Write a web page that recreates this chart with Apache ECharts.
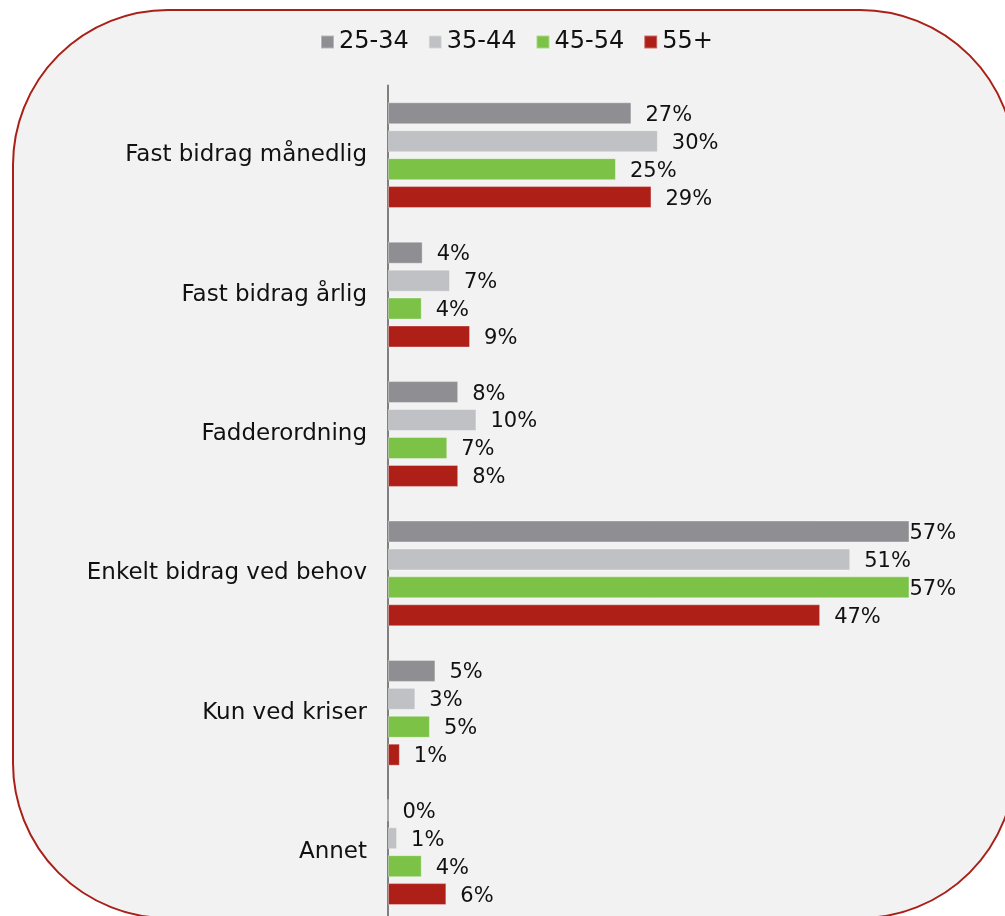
<!DOCTYPE html>
<html>
<head>
<meta charset="utf-8">
<script src="https://cdn.jsdelivr.net/npm/echarts@6/dist/echarts.min.js"></script>
<style>
html,body{margin:0;padding:0;background:#ffffff;}
#chart{width:1005px;height:916px;}
</style>
</head>
<body>
<div id="chart"></div>
<script>
var categories = ['Fast bidrag månedlig', 'Fast bidrag årlig', 'Fadderordning', 'Enkelt bidrag ved behov', 'Kun ved kriser', 'Annet'];
var seriesNames = ['25-34', '35-44', '45-54', '55+'];
var v2534 = [26.7, 3.8, 7.7, 57.2, 5.2, 0];
var v3544 = [29.6, 6.8, 9.7, 50.7, 3.0, 1.0];
var v4554 = [25.0, 3.7, 6.5, 57.2, 4.6, 3.7];
var v55 = [28.9, 9.0, 7.7, 47.4, 1.3, 6.4];
var colors = ['#8f8e92', '#c0c1c4', '#7bc247', '#ae1f17'];

var allValues = [v2534, v3544, v4554, v55];
var font = '"DejaVu Sans", Verdana, sans-serif';

var series = allValues.map(function (vals, si) {
  return {
    name: seriesNames[si],
    type: 'bar',
    barWidth: 22,
    barGap: '27%',
    barCategoryGap: '24%',
    itemStyle: { color: colors[si], borderColor: 'rgba(255,255,255,0.35)', borderWidth: 1 },
    data: vals.map(function (v) {
      return { value: v, label: { distance: v > 55 ? 0 : 14 } };
    }),
    label: {
      show: true,
      position: 'right',
      offset: [0, 2],
      color: '#111111',
      fontFamily: font,
      fontSize: 21,
      formatter: function (p) { return Math.round(p.value) + '%'; }
    }
  };
});

var chart = echarts.init(document.getElementById('chart'), null, { renderer: 'canvas' });
chart.setOption({
  animation: false,
  graphic: [{
    type: 'rect',
    z: -10,
    shape: { x: 13, y: 10, width: 1002, height: 908, r: 155 },
    style: { fill: '#f2f2f2', stroke: '#a82018', lineWidth: 2 }
  }],
  legend: {
    data: seriesNames,
    left: 315,
    top: 25,
    itemWidth: 13,
    itemHeight: 13,
    itemGap: 19,
    icon: 'rect',
    textStyle: { fontFamily: font, fontSize: 24, color: '#111111' }
  },
  grid: { left: 388, width: 547, top: 85.5, height: 836.4, containLabel: false, outerBoundsMode: 'none' },
  xAxis: {
    type: 'value',
    min: 0,
    max: 60,
    show: false
  },
  yAxis: {
    type: 'category',
    data: categories,
    inverse: true,
    axisLine: { show: true, lineStyle: { color: '#808080', width: 2 } },
    axisTick: { show: false },
    axisLabel: { fontFamily: font, fontSize: 23, color: '#111111', margin: 21, padding: [5, 0, 0, 0] }
  },
  series: series
});
</script>
</body>
</html>
